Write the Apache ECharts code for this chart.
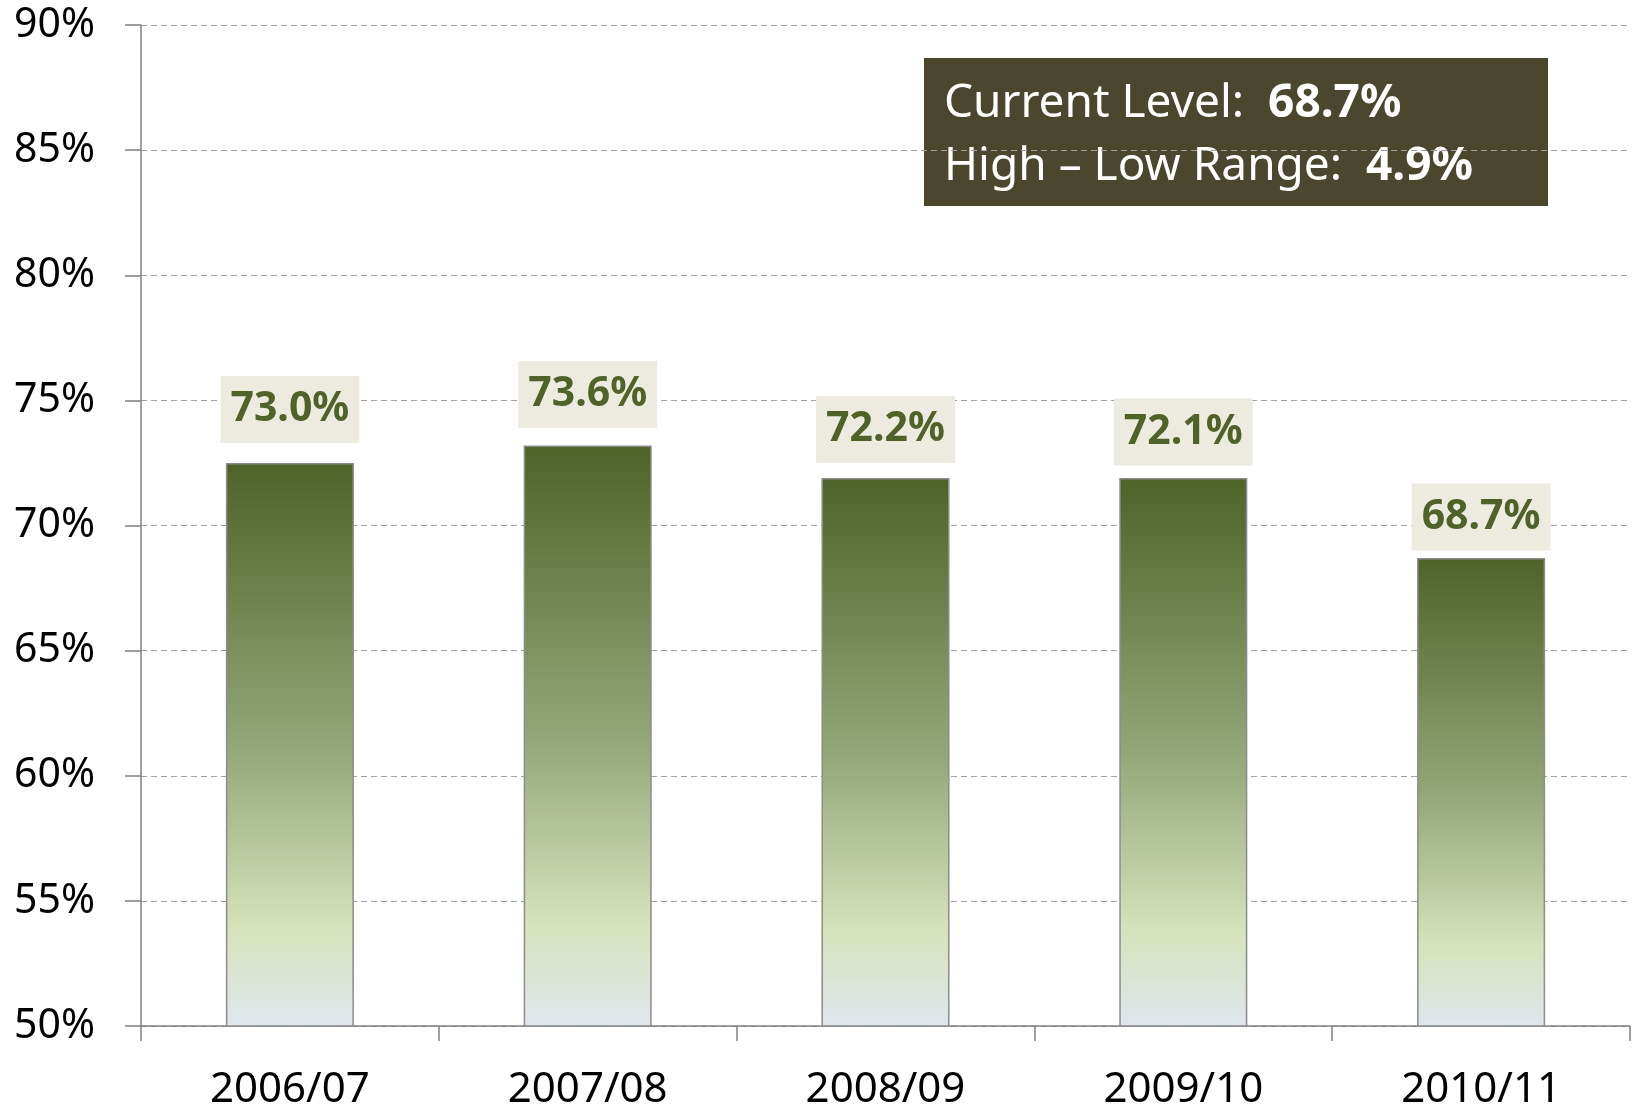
<!DOCTYPE html>
<html>
<head>
<meta charset="utf-8">
<script src="https://cdn.jsdelivr.net/npm/echarts@6/dist/echarts.min.js"></script>
<style>
  html, body { margin: 0; padding: 0; background: #fff; }
  #main { width: 1632px; height: 1111px; }
</style>
</head>
<body>
<div id="main"></div>
<script>
  const years = ['2006/07', '2007/08', '2008/09', '2009/10', '2010/11'];
  // bar heights as drawn
  const barValues = [72.5, 73.2, 71.9, 71.9, 68.7];
  // value labels printed above the bars
  const labelValues = [73.0, 73.6, 72.2, 72.1, 68.7];
  const currentLevel = '68.7%';
  const highLowRange = '4.9%';

  const chart = echarts.init(document.getElementById('main'));

  const font = '"Noto Sans", "Open Sans", sans-serif';

  const option = {
    animation: false,
    grid: { left: 141, right: 2, top: 25, bottom: 83 },
    xAxis: {
      type: 'category',
      data: years,
      axisLine: { lineStyle: { color: '#808080', width: 1.5 } },
      axisTick: { show: true, length: 15, lineStyle: { color: '#808080', width: 1.5 } },
      axisLabel: { color: '#000', fontSize: 42, fontFamily: font, margin: 43 },
    },
    yAxis: {
      type: 'value',
      min: 50,
      max: 90,
      interval: 5,
      axisLine: { show: true, lineStyle: { color: '#808080', width: 1.5 } },
      axisTick: { show: true, length: 16, lineStyle: { color: '#808080', width: 1.5 } },
      axisLabel: {
        color: '#000',
        fontSize: 41,
        fontFamily: font,
        margin: 46,
        formatter: (v) => v + '%',
      },
      splitLine: { lineStyle: { color: '#a0a0a0', width: 1, type: [6, 4] } },
    },
    series: [
      {
        type: 'bar',
        data: barValues,
        barWidth: '43%',
        itemStyle: {
          borderColor: '#8c8c8c',
          borderWidth: 1.5,
          color: new echarts.graphic.LinearGradient(0, 0, 0, 1, [
            { offset: 0, color: '#4f6228' },
            { offset: 0.5, color: '#93a677' },
            { offset: 0.83, color: '#d7e3bc' },
            { offset: 1, color: '#dfe6ef' },
          ]),
        },
      },
      {
        type: 'scatter',
        data: labelValues,
        symbolSize: 1,
        itemStyle: { color: 'rgba(0,0,0,0)', opacity: 1 },
        label: {
          show: true,
          position: 'top',
          distance: 7,
          formatter: (p) => p.value.toFixed(1) + '%',
          color: '#4f6228',
          fontSize: 41,
          fontWeight: 'bold',
          fontFamily: font,
          backgroundColor: '#edebe0',
          padding: [10, 10, 10, 10],
          lineHeight: 47,
        },
      },
    ],
    graphic: [
      {
        type: 'rect',
        left: 924,
        top: 58,
        shape: { width: 624, height: 148 },
        style: { fill: '#4b462e' },
      },
      {
        type: 'text',
        x: 944,
        y: 104,
        style: {
          text: 'Current Level:  {b|' + currentLevel + '}',
          fill: '#fff',
          font: '46px ' + font,
          verticalAlign: 'middle',
          rich: { b: { fontWeight: 'bold', fontSize: 46, fontFamily: font, fill: '#fff' } },
        },
      },
      {
        type: 'text',
        x: 944,
        y: 167,
        style: {
          text: 'High – Low Range:  {b|' + highLowRange + '}',
          fill: '#fff',
          font: '46px ' + font,
          verticalAlign: 'middle',
          rich: { b: { fontWeight: 'bold', fontSize: 46, fontFamily: font, fill: '#fff' } },
        },
      },
    ],
  };

  chart.setOption(option);
</script>
</body>
</html>
